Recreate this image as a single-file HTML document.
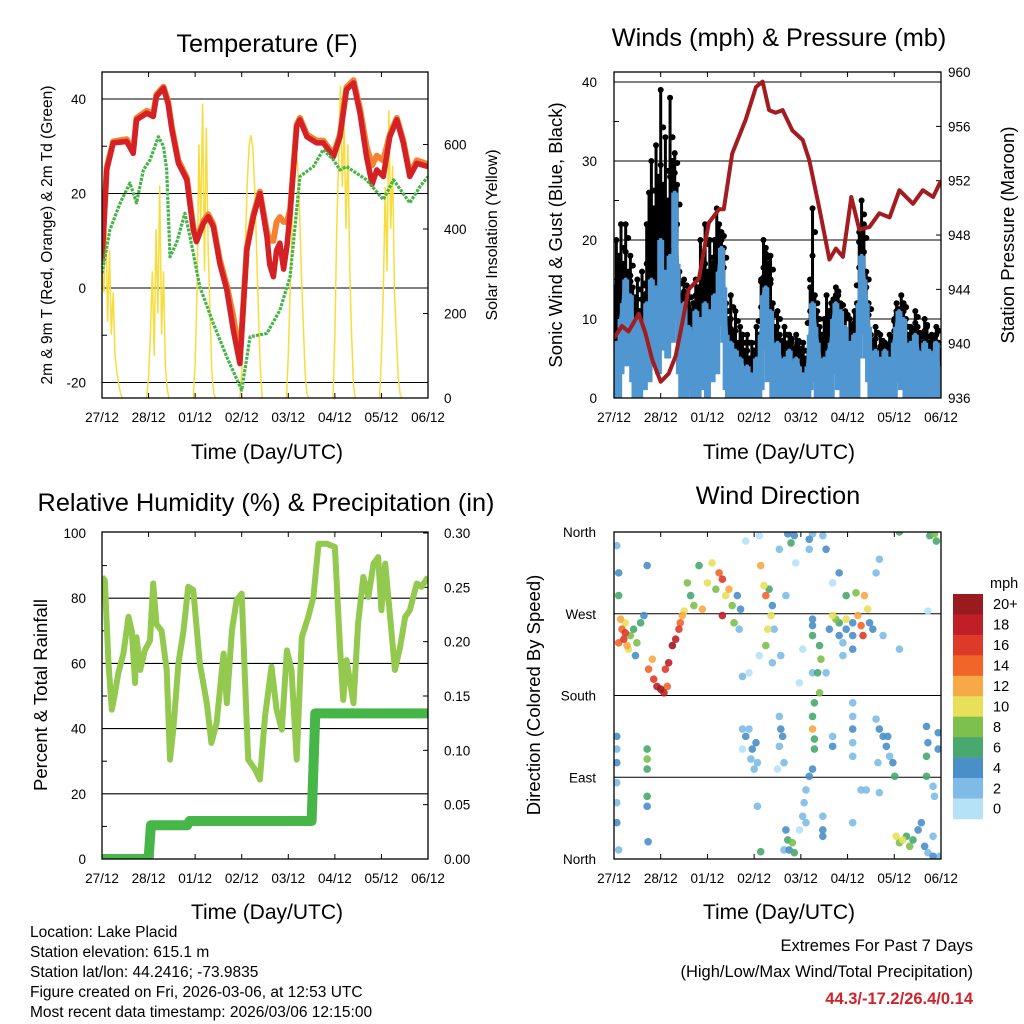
<!DOCTYPE html>
<html><head><meta charset="utf-8">
<style>
html,body{margin:0;padding:0;background:#fff;}
svg{display:block;font-family:"Liberation Sans",sans-serif;}
</style></head>
<body>
<svg id="chart" width="1024" height="1024" viewBox="0 0 1024 1024" xmlns="http://www.w3.org/2000/svg">
<rect width="1024" height="1024" fill="#fff"/>
<g id="p1"></g>
<g id="p2"></g>
<g id="p3"></g>
<g id="p4"></g>

<text x="267" y="52" font-size="25.3" text-anchor="middle">Temperature (F)</text>
<text transform="translate(52,235) rotate(-90)" font-size="15.5" text-anchor="middle">2m &amp; 9m T (Red, Orange) &amp; 2m Td (Green)</text>
<text transform="translate(497,235) rotate(-90)" font-size="16" text-anchor="middle">Solar Insolation (Yellow)</text>
<text x="267" y="459" font-size="21" text-anchor="middle">Time (Day/UTC)</text>

<text x="779" y="46" font-size="25.3" text-anchor="middle">Winds (mph) &amp; Pressure (mb)</text>
<text transform="translate(562,235) rotate(-90)" font-size="18.5" text-anchor="middle">Sonic Wind &amp; Gust (Blue, Black)</text>
<text transform="translate(1014,235) rotate(-90)" font-size="18.5" text-anchor="middle">Station Pressure (Maroon)</text>
<text x="779" y="459" font-size="21" text-anchor="middle">Time (Day/UTC)</text>

<text x="266" y="511" font-size="25.3" text-anchor="middle">Relative Humidity (%) &amp; Precipitation (in)</text>
<text transform="translate(47,695) rotate(-90)" font-size="18.5" text-anchor="middle">Percent &amp; Total Rainfall</text>
<text x="267" y="919" font-size="21" text-anchor="middle">Time (Day/UTC)</text>

<text x="778" y="504" font-size="25.3" text-anchor="middle">Wind Direction</text>
<text transform="translate(540,695) rotate(-90)" font-size="18.5" text-anchor="middle">Direction (Colored By Speed)</text>
<text x="779" y="919" font-size="21" text-anchor="middle">Time (Day/UTC)</text>

<g font-size="15.5">
<text x="30" y="937">Location: Lake Placid</text>
<text x="30" y="957">Station elevation: 615.1 m</text>
<text x="30" y="977">Station lat/lon: 44.2416; -73.9835</text>
<text x="30" y="997">Figure created on Fri, 2026-03-06, at 12:53 UTC</text>
<text x="30" y="1017">Most recent data timestamp: 2026/03/06 12:15:00</text>
</g>
<g text-anchor="end">
<text x="973" y="951" font-size="16.5">Extremes For Past 7 Days</text>
<text x="973" y="977" font-size="16.5">(High/Low/Max Wind/Total Precipitation)</text>
<text x="973" y="1004" font-size="16.5" font-weight="bold" fill="#d0222a">44.3/-17.2/26.4/0.14</text>
</g>
</svg>
<script>
// ---------- data ----------
var dayLabels = ["27/12","28/12","01/12","02/12","03/12","04/12","05/12","06/12"];
var tDay = [0,.10,.24,.53,.67,.74,.96,1.10,1.17,1.32,1.42,1.50,1.64,1.82,1.96,2.03,2.18,2.28,2.39,2.53,2.68,2.82,2.96,3.11,3.25,3.39,3.54,3.60,3.68,3.75,3.82,3.90,3.97,4.04,4.18,4.25,4.40,4.61,4.75,4.97,5.11,5.25,5.40,5.54,5.68,5.80,5.90,6.04,6.18,6.33,6.47,6.61,6.76,7.0];
var t2mRed = [5.6,25,30.7,31,28.5,35.6,37,36.3,40.6,42.3,39,33.5,26.4,22.9,12.3,9.8,13.7,15.1,13,5.2,-0.4,-8.9,-16,8,15.1,20,10.9,5,2.4,8,9.5,4,8.8,15.8,34.2,35.6,32,30.7,30.7,27.8,32,42,43.4,37,27.8,22,25,23.6,32,35.6,30.7,23.6,26.4,25.7];
var t9mOrange = [6,25.5,31,31.5,29,36,37.5,36.8,41,42.6,39.5,34,27,23.4,12.8,10.3,14.2,15.6,13.5,6,0.5,-6,-15,8.5,15.6,20.4,12,10,10,14,15,14,14,16.5,34.6,36,32.5,31.2,31.2,28.3,32.5,42.5,44,38,30,26,28,27,32.5,36,31.2,24.2,27,26.2];
var tdDay = [0,.17,.39,.60,.74,.89,1.03,1.21,1.32,1.39,1.46,1.60,1.78,1.89,2.10,2.39,2.68,3.0,3.18,3.54,3.82,4.04,4.25,4.54,4.75,4.97,5.11,5.25,5.68,6.04,6.26,6.61,6.83,7.0];
var tdGreen = [3.1,12.3,18,22.2,18,25,27.1,32,30,25,6.6,9.5,15.8,10.9,0.3,-7.5,-14.6,-21.6,-10.3,-9.6,-4.7,2.4,23.6,25.7,29.3,27.1,25,25.7,22.9,18.7,22.9,18,21.5,23.6];
var solarDay0 = [0,300,250,450,180,350,150,250,100,60,30,10,0];
var solarDay1 = [0,50,150,300,100,400,200,503,150,300,80,20,0];
var solarDay2 = [0,80,250,600,400,697,300,640,350,200,60,10,0];
var solarDay3 = [0,60,200,370,510,600,622,590,490,350,200,70,0];
var solarDay4 = [0,100,250,400,520,598,550,450,300,180,60,10,0];
var solarDay5 = [0,150,400,560,740,500,650,400,600,300,150,30,0];
var solarDay6 = [0,100,250,500,300,681,400,550,250,150,50,10,0];

var pDay = [0,.17,.31,.53,.67,.82,1.0,1.17,1.32,1.46,1.60,1.82,2.03,2.25,2.35,2.53,2.82,3.04,3.18,3.32,3.46,3.61,3.82,4.04,4.18,4.40,4.61,4.75,4.90,5.08,5.25,5.47,5.68,5.90,6.11,6.40,6.61,6.83,7.0];
var pressure = [940.4,941.3,940.9,942.2,940.8,938.8,937.2,937.8,939.1,941.5,944,944.8,948.9,949.9,949.9,954,956.5,958.9,959.3,957.2,957,957.2,955.7,955,953.5,949.9,946.2,947,946.4,950.8,948.4,948.6,949.6,949.3,951.3,950.3,951.3,950.8,952];
var windStep = 0.05;
var sonicWind = [3,7,5,10,12,15,11,13,9,7,10,6,9,8,12,9,15,11,14,10,20,13,16,12,18,14,26,17,10,7,12,6,9,8,7,11,6,10,8,12,7,11,9,13,10,16,19,14,8,5,7,4,6,3,5,4,2,4,1,3,2,5,3,8,13,14,9,11,6,4,7,5,3,5,2,6,4,3,5,4,2,3,1,4,8,12,9,7,5,3,5,4,6,7,10,12,8,11,6,9,4,7,3,8,6,12,18,15,12,9,5,3,6,4,5,3,6,4,5,3,7,9,11,8,10,6,5,7,4,8,6,3,5,7,4,6,2,5,7,3,4];
var gust = [14,20,18,22,17,22,16,18,14,12,15,11,16,13,22,26,30,24,32,28,39,27,33,25,38,30,31,27,16,13,15,12,14,11,12,15,14,20,18,22,16,20,17,20,24,22,21,19,12,10,13,8,11,7,9,8,6,8,5,7,6,9,8,15,20,19,17,18,12,9,11,8,7,9,6,8,7,6,8,7,6,7,5,6,14,24,13,11,9,8,10,13,11,12,10,14,13,12,9,11,7,10,8,11,12,21,25,22,16,12,8,7,9,6,8,7,7,6,8,7,10,12,11,13,12,10,8,9,7,11,9,8,7,10,9,7,8,6,9,7,6];

var rhDay = [0,.06,.14,.21,.28,.35,.46,.57,.64,.71,.74,.82,.92,1.03,1.10,1.17,1.28,1.39,1.46,1.53,1.64,1.75,1.85,1.96,2.10,2.25,2.35,2.46,2.61,2.68,2.79,2.89,3.0,3.07,3.14,3.29,3.39,3.50,3.64,3.75,3.86,3.97,4.07,4.18,4.29,4.43,4.54,4.65,4.83,5.0,5.11,5.18,5.25,5.40,5.50,5.61,5.72,5.83,5.93,6.0,6.08,6.18,6.29,6.40,6.51,6.61,6.76,6.86,7.0];
var rh = [86.5,85.5,60,45.8,50.9,57,63,74.3,70,54,68,58,64,67,84.5,72,70,58,30.5,39.7,60,70,83.5,82.5,60,47.8,35.6,41.7,63,47.8,70,79.4,81.4,55,30.5,27.4,24.4,43.7,59,45.8,39.7,64,58,30.5,68,74.3,80.4,96.7,96.7,95.7,65,48.8,61,47.8,72.3,86.5,80.4,90.6,92.6,76.3,90.6,75.3,58,65,74.3,76.3,84.5,83.5,86.5];
var rainDay = [0,1.0,1.05,1.83,1.88,4.5,4.58,7.0];
var rainTotal = [0,0,0.031,0.031,0.035,0.035,0.134,0.134];

var dirDay = [.14,.17,.21,.24,.28,.35,.42,.49,.57,.64,.46,.31,.10,.24,
 .74,.82,.85,.92,1.0,1.07,1.14,1.10,1.17,1.25,1.32,1.39,1.42,1.46,1.50,
 1.57,1.64,1.71,1.82,1.89,2.0,2.10,2.18,2.25,2.32,2.39,2.32,2.46,2.53,2.64,2.71,2.57,2.68,
 3.14,3.21,3.25,3.32,3.36,3.29,3.25,3.39,3.43,
 2.75,2.89,3.11,3.39,3.57,3.68,3.89,4.04,3.97,4.25,4.54,4.68,4.90,5.11,5.68,5.61,6.72,5.76,6.11,
 3.72,3.79,3.86,4.18,4.18,4.47,4.54,2.82,3.11,3.54,4.25,
 4.25,4.25,4.40,4.43,4.36,4.40,4.29,4.25,4.25,4.29,4.29,4.25,
 4.68,4.75,4.82,4.97,4.61,4.82,4.90,4.97,5.11,5.22,5.29,5.33,5.36,5.43,5.47,5.54,5.18,4.82,4.97,5.11,
 2.75,2.82,2.89,2.96,3.04,2.93,3.0,2.75,3.07,
 3.54,3.57,3.61,3.54,3.64,3.50,
 5.61,5.68,5.76,5.83,5.90,5.97,6.01,5.86,5.65,
 4.18,4.11,4.07,4.04,4.11,3.97,4.25,
 3.68,3.72,3.75,3.82,3.86,3.64,
 6.04,6.11,6.18,6.26,6.33,6.40,6.51,6.58,6.65,6.72,6.83,6.97,6.83,
 6.76,6.86,6.90,6.11,
 .71,.71,.71,.71,.71,.73,.71,
 .06,.10,.10,.06,.06,.06,.06,.06,.06,.10,
 6.69,6.72,6.69,6.94,6.94,6.69,6.83,6.86,
 5.11,5.11,5.11,5.11,5.11,4.68,4.68,5.29,5.40,5.68,5.11,4.47,4.47,4.47,3.14,3.07];
var dirDeg = [264,253,242,260,235,246,253,238,260,268,224,231,238,249,
 209,220,198,190,187,183,190,209,216,235,242,253,260,268,273,
 304,290,279,323,275,304,326,297,315,308,290,268,297,279,290,275,260,253,
 323,301,290,297,268,253,235,279,253,
 201,205,224,216,224,290,326,231,194,205,205,304,224,231,330,315,273,246,231,
 358,348,356,352,341,356,341,350,356,341,358,
 257,246,235,220,205,183,172,157,143,132,121,264,
 268,264,260,264,253,246,238,253,260,268,257,246,290,275,260,253,293,315,290,246,
 143,135,143,121,128,110,99,121,106,
 157,143,135,124,106,99,
 154,143,135,124,113,106,91,135,106,
 91,76,62,47,40,32,99,
 32,21,10,18,7,10,
 25,18,21,25,14,21,32,40,14,7,3,3,25,
 356,358,350,360,
 121,110,99,69,58,19,323,
 345,315,290,135,121,106,84,62,40,10,
 146,128,113,139,121,91,80,69,
 172,157,143,128,113,135,124,76,76,73,40,47,32,25,8,58];
var dirSpd = [12,14,16,10,12,8,6,8,6,4,4,10,14,16,
 14,12,16,18,20,18,14,16,18,20,18,16,14,12,10,
 8,6,8,6,12,10,10,8,14,16,10,18,12,8,4,4,8,2,
 12,10,14,6,10,10,8,4,2,
 2,0,0,2,2,2,0,0,0,2,2,0,2,4,2,2,0,2,2,
 4,6,4,4,2,2,4,0,0,2,2,
 4,6,6,8,6,8,6,6,12,6,6,4,
 10,8,6,10,4,4,2,4,4,12,14,16,12,10,4,4,8,4,6,4,
 2,4,2,4,4,2,2,0,2,
 2,4,4,2,2,0,
 2,4,4,4,2,4,6,4,2,
 4,2,2,2,2,0,4,
 4,6,4,8,6,2,
 10,8,10,6,8,6,4,4,4,2,4,2,2,
 6,8,6,6,
 6,8,6,6,4,4,4,
 2,4,6,4,2,4,2,2,4,2,
 4,4,6,4,4,6,2,2,
 2,2,4,2,2,2,4,2,2,2,2,2,4,4,6,2];
var speedLevels = ["0","2","4","6","8","10","12","14","16","18","20+"];
var dirLabels = ["North","East","South","West","North"];

// ---------- helpers ----------
var NS = "http://www.w3.org/2000/svg";
function mk(parent, tag, attrs){
  var e = document.createElementNS(NS, tag);
  for (var k in attrs) e.setAttribute(k, attrs[k]);
  parent.appendChild(e);
  return e;
}
var speedColors = ["#b6e2f8","#7ebbe6","#4a8fc8","#48a86e","#7dc04d","#e7e05a","#f7a847","#f26529","#de3a2a","#c11f27","#9a1b1e"];
function speedColor(s){ var i = Math.min(10, Math.max(0, Math.floor(s/2))); return speedColors[i]; }

function frame(g, L, T, R, B, xs){
  var clipId = "clip" + L + T;
  var defs = mk(g, "defs", {});
  var cp = mk(defs, "clipPath", {id: clipId});
  mk(cp, "rect", {x: L, y: T, width: R-L, height: B-T});
  for (var d = 0; d < dayLabels.length; d++){
    var x = xs(d);
    var tk = mk(g, "line", {x1:x, x2:x, y1:B, y2:B-5, stroke:"#000", "stroke-width":1});
    
    
    mk(g, "line", {x1:x, x2:x, y1:T, y2:T+5, stroke:"#000", "stroke-width":1});
    var t = mk(g, "text", {x:x, y:B+24, "font-size":13.5, "text-anchor":"middle"});
    t.textContent = dayLabels[d];
    
    
  }
  return clipId;
}
function border(g, L, T, R, B){
  var r = mk(g, "rect", {x:L, y:T, width:R-L, height:B-T, fill:"none", stroke:"#000", "stroke-width":1.3});
  
  
}
function hgrid(g, L, R, y){
  mk(g, "line", {x1:L, x2:R, y1:y, y2:y, stroke:"#000", "stroke-width":1.1});
}
function ylab(g, x, y, txt, anchor){
  var t = mk(g, "text", {x:x, y:y+5, "font-size":13.5, "text-anchor":anchor});
  t.textContent = txt;
  
  
}
function pathFrom(xsArr, ysArr, xs, ys){
  var d = "";
  for (var i = 0; i < xsArr.length; i++) d += (i ? "L" : "M") + xs(xsArr[i]).toFixed(1) + " " + ys(ysArr[i]).toFixed(1);
  return d;
}

// ---------- panel 1: temperature ----------
(function(){
  var g = document.getElementById("p1");
  var L=102, R=428, T=72, B=398;
  var xs = function(d){ return L + d*(R-L)/7; };
  var yT = function(v){ return 288 - v*4.725; };
  var yS = function(v){ return 398 - v*0.4225; };
  var clip = frame(g, L, T, R, B, xs);
  [40,20,0,-20].forEach(function(v){ hgrid(g, L, R, yT(v)); ylab(g, 86, yT(v), String(v), "end"); });
  [-10,10,30].forEach(function(v){ mk(g,"line",{x1:L,x2:L+5,y1:yT(v),y2:yT(v),stroke:"#000"}); });
  [0,200,400,600].forEach(function(v){ mk(g,"line",{x1:R,x2:R-5,y1:yS(v),y2:yS(v),stroke:"#000"}); ylab(g, 444, yS(v), String(v), "start"); });
  var pg = mk(g, "g", {"clip-path":"url(#"+clip+")"});
  var solar = [solarDay0,solarDay1,solarDay2,solarDay3,solarDay4,solarDay5,solarDay6];
  for (var d = 0; d < 7; d++){
    var dd = [], vv = [];
    for (var i = 0; i < solar[d].length; i++){ dd.push(d - 0.04 + i*0.04); vv.push(solar[d][i]); }
    var sp = mk(pg, "path", {d: pathFrom(dd, vv, xs, yS), fill:"none", stroke:"#f8dc3c", "stroke-width":1.5});
    
    
  }
  var og = mk(pg, "path", {d: pathFrom(tDay, t9mOrange, xs, yT), fill:"none", stroke:"#f58230", "stroke-width":6, "stroke-linejoin":"round"});
  
  
  var rd = mk(pg, "path", {d: pathFrom(tDay, t2mRed, xs, yT), fill:"none", stroke:"#d42126", "stroke-width":5.5, "stroke-linejoin":"round"});
  
  
  var gr = mk(pg, "path", {d: pathFrom(tdDay, tdGreen, xs, yT), fill:"none", stroke:"#47b449", "stroke-width":3.2, "stroke-dasharray":"3 1.2", "stroke-linejoin":"round"});
  
  
  border(g, L, T, R, B);
})();

// ---------- panel 2: winds & pressure ----------
(function(){
  var g = document.getElementById("p2");
  var L=614, R=941, T=72, B=398;
  var xs = function(d){ return L + d*(R-L)/7; };
  var yW = function(v){ return 398 - v*7.9; };
  var yP = function(p){ return 398 - (p-936)*13.58; };
  var clip = frame(g, L, T, R, B, xs);
  [10,20,30,40].forEach(function(v){ hgrid(g, L, R, yW(v)); });
  [0,10,20,30,40].forEach(function(v){ ylab(g, 597, yW(v), String(v), "end"); });
  [5,15,25,35].forEach(function(v){ mk(g,"line",{x1:L,x2:L+5,y1:yW(v),y2:yW(v),stroke:"#000"}); });
  [936,940,944,948,952,956,960].forEach(function(p){ mk(g,"line",{x1:R,x2:R-5,y1:yP(p),y2:yP(p),stroke:"#000"}); ylab(g, 948, yP(p), String(p), "start"); });
  var pg = mk(g, "g", {"clip-path":"url(#"+clip+")"});
  for (var i = 0; i < gust.length; i++){
    var x = xs(i*windStep);
    var bl = mk(pg, "line", {x1:x, x2:x, y1:yW(sonicWind[i]), y2:yW(gust[i]), stroke:"#000", "stroke-width":3});
    
    
    var c = mk(pg, "circle", {cx:x, cy:yW(gust[i]), r:3, fill:"#000"});
    
    
    [0.25,0.5,0.75].forEach(function(f, n){
      var c2 = mk(pg, "circle", {cx:x + (n-1)*2.5, cy:yW(sonicWind[i] + (gust[i]-sonicWind[i])*f), r:3, fill:"#000"});
      
      
    });
  }
  var wd = [], wv = [];
  for (var j = 0; j < sonicWind.length; j++){ wd.push(j*windStep); wv.push(sonicWind[j]); }
  for (var k = 0; k < sonicWind.length; k++){
    var xx = xs(k*windStep);
    var bb = mk(pg, "line", {x1:xx, x2:xx, y1:yW(Math.max(0, sonicWind[k]-7)), y2:yW(sonicWind[k]), stroke:"#5096d1", "stroke-width":7});
    
    
  }
  var wl = mk(pg, "path", {d: pathFrom(wd, wv, xs, yW), fill:"none", stroke:"#5096d1", "stroke-width":4, "stroke-linejoin":"round"});
  
  
  var pl = mk(pg, "path", {d: pathFrom(pDay, pressure, xs, yP), fill:"none", stroke:"#a31c1f", "stroke-width":4, "stroke-linejoin":"round"});
  
  
  border(g, L, T, R, B);
})();

// ---------- panel 3: humidity & rain ----------
(function(){
  var g = document.getElementById("p3");
  var L=102, R=428, T=532, B=859;
  var xs = function(d){ return L + d*(R-L)/7; };
  var yH = function(v){ return 859 - v*3.26; };
  var yR = function(v){ return 859 - v*1086.7; };
  var clip = frame(g, L, T, R, B, xs);
  [20,40,60,80].forEach(function(v){ hgrid(g, L, R, yH(v)); });
  [0,20,40,60,80,100].forEach(function(v){ ylab(g, 86, yH(v), String(v), "end"); });
  [10,30,50,70,90].forEach(function(v){ mk(g,"line",{x1:L,x2:L+5,y1:yH(v),y2:yH(v),stroke:"#000"}); });
  ["0.00","0.05","0.10","0.15","0.20","0.25","0.30"].forEach(function(s){ var v=parseFloat(s); mk(g,"line",{x1:R,x2:R-5,y1:yR(v),y2:yR(v),stroke:"#000"}); ylab(g, 444, yR(v), s, "start"); });
  var pg = mk(g, "g", {"clip-path":"url(#"+clip+")"});
  var rl = mk(pg, "path", {d: pathFrom(rhDay, rh, xs, yH), fill:"none", stroke:"#93c94f", "stroke-width":6, "stroke-linejoin":"round"});
  
  
  var rn = mk(pg, "path", {d: pathFrom(rainDay, rainTotal, xs, yR), fill:"none", stroke:"#46b649", "stroke-width":10, "stroke-linejoin":"round", "stroke-linecap":"round"});
  
  
  border(g, L, T, R, B);
})();

// ---------- panel 4: wind direction ----------
(function(){
  var g = document.getElementById("p4");
  var L=614, R=941, T=532, B=859;
  var xs = function(d){ return L + d*(R-L)/7; };
  var yD = function(v){ return 859 - v*(B-T)/360; };
  var clip = frame(g, L, T, R, B, xs);
  [90,180,270].forEach(function(v){ hgrid(g, L, R, yD(v)); });
  for (var i = 0; i < dirLabels.length; i++){ ylab(g, 596, yD(i*90), dirLabels[i], "end"); }
  var pg = mk(g, "g", {"clip-path":"url(#"+clip+")"});
  var order = [];
  for (var j = 0; j < dirDay.length; j++) order.push(j);
  order.sort(function(a,b){ return dirSpd[a]-dirSpd[b]; });
  order.forEach(function(j){
    var c = mk(pg, "circle", {cx: xs(dirDay[j]), cy: yD(dirDeg[j]), r: 3.8, fill: speedColor(dirSpd[j]), "fill-opacity":0.9});
    
    
  });
  border(g, L, T, R, B);
  var cb = mk(g, "g", {});
  
  
  var top = 594, h = 20.45;
  for (var k = 0; k < speedLevels.length; k++){
    var idx = speedLevels.length - 1 - k;
    var rr = mk(cb, "rect", {x:953, y: top + k*h, width:30, height:h+0.3, fill: speedColors[idx]});
    
    
    var t = mk(cb, "text", {x:993, y: top + k*h + h/2 + 5, "font-size":14.5});
    t.textContent = speedLevels[idx];
    
    
  }
  var u = mk(cb, "text", {x:990, y:588, "font-size":14.5});
  u.textContent = "mph";
  
  
})();
</script>
</body></html>
